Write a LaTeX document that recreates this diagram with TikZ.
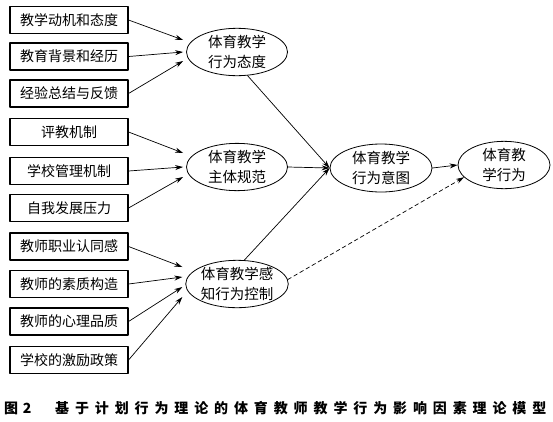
\documentclass[tikz,border=0pt]{standalone}
\usepackage{fontspec}
\setmainfont{Noto Sans CJK SC}
\usetikzlibrary{arrows.meta,shapes.geometric}
\tikzset{
  factor/.style={draw,line width=1.1pt,minimum width=118pt,minimum height=27pt,inner sep=0pt,font=\fontsize{14}{16}\selectfont},
  stage/.style={draw,ellipse,line width=0.8pt,inner sep=0pt,align=center,font=\fontsize{14.5}{20}\selectfont},
  link/.style={-{Stealth[length=8pt,width=5pt]},line width=0.7pt}
}
\begin{document}
\begin{tikzpicture}[x=1pt,y=-1pt,line join=round,line cap=round]
\useasboundingbox (0,0) rectangle (553,421);
% factors on the left
\foreach \i/\y/\t in {1/20/教学动机和态度,2/56.5/教育背景和经历,3/93.5/经验总结与反馈,
  4/132/评教机制,5/171/学校管理机制,6/208/自我发展压力,
  7/246.5/教师职业认同感,8/284/教师的素质构造,9/321.5/教师的心理品质,10/360/学校的激励政策}
  \node[factor] (b\i) at (69,\y) {\t};
% ellipses
\node[stage,minimum width=101pt,minimum height=41pt] (e1) at (237,52) {体育教学\\行为态度};
\node[stage,minimum width=101pt,minimum height=41pt] (e2) at (237,167) {体育教学\\主体规范};
\node[stage,minimum width=101pt,minimum height=42pt] (e3) at (237,284) {体育教学感\\知行为控制};
\node[stage,minimum width=102pt,minimum height=48pt] (e4) at (381,168) {体育教学\\行为意图};
\node[stage,minimum width=92pt,minimum height=40pt] (e5) at (504,165) {体育教\\学行为};
\foreach \i/\j/\d in {1/1/-12,2/1/0,3/1/9,4/2/-14,5/2/0,6/2/10,7/3/-17,8/3/-7,9/3/3,10/3/13}
  \draw[link] (b\i.east) -- ([shift={(-3,\d)}]e\j.west);
\draw[link] (e1.-66) -- (e4.west);
\draw[link] (e2.east) -- (e4.west);
\draw[link] (e3.73) -- (e4.west);
\draw[link] (e4.east) -- (e5.west);
\draw[link,dash pattern=on 4pt off 3pt] (e3.5) -- (e5.197);
\node[anchor=west,inner sep=0pt,font=\fontsize{14}{16}\selectfont\bfseries] (caption) at (4,408)
  {\makebox[51pt][l]{图\,\,2}{\addfontfeature{LetterSpace=42}基于计划行为理论的体育教师教学行为影响因素理论模型}};
\end{tikzpicture}
\end{document}
